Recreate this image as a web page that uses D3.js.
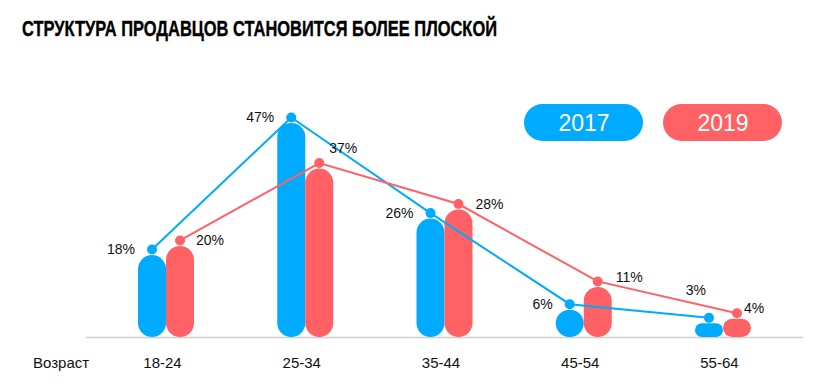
<!DOCTYPE html>
<html><head><meta charset="utf-8">
<script src="https://cdn.jsdelivr.net/npm/d3@7"></script>
<style>body{margin:0;background:#fff}svg{display:block;font-family:"Liberation Sans",Arial,sans-serif}</style>
</head><body>
<svg id="c" width="817" height="390"></svg>
<script>
const title = "СТРУКТУРА ПРОДАВЦОВ СТАНОВИТСЯ БОЛЕЕ ПЛОСКОЙ";
const axisLabel = "Возраст";
const categories = ["18-24", "25-34", "35-44", "45-54", "55-64"];
const seriesNames = ["2017", "2019"];
const values2017 = [18, 47, 26, 6, 3];
const values2019 = [20, 37, 28, 11, 4];

const colors = ["#00AAFF", "#FF6164"];
const svg = d3.select("#c");

svg.append("text").attr("x", 22).attr("y", 35.5)
  .attr("font-size", 22.5).attr("font-weight", "bold").attr("fill", "#000")
  .attr("stroke", "#000").attr("stroke-width", 0.4)
  .attr("textLength", 475).attr("lengthAdjust", "spacingAndGlyphs")
  .text(title);

const x = d3.scaleBand().domain(categories).range([96.4, 792.6]).padding(0);
const y = d3.scaleLinear().domain([0, 47]).range([337, 123]);
const barW = 28;
const series = [values2017, values2019];

// axis line
svg.append("line").attr("x1", 86).attr("x2", 803).attr("y1", 337.5).attr("y2", 337.5)
  .attr("stroke", "#cfcfcf").attr("stroke-width", 1.5);

// bars
series.forEach((vals, si) => {
  svg.append("g").selectAll("rect").data(vals).join("rect")
    .attr("x", (d, i) => x(categories[i]) + x.bandwidth() / 2 + (si - 1) * barW)
    .attr("y", d => y(d))
    .attr("width", barW)
    .attr("height", d => y(0) - y(d))
    .attr("rx", d => Math.min(barW / 2, (y(0) - y(d)) / 2))
    .attr("ry", d => Math.min(barW / 2, (y(0) - y(d)) / 2))
    .attr("fill", colors[si]);
});

// lines + dots
const dotOff = 5.5;
const cx = (i, si) => x(categories[i]) + x.bandwidth() / 2 + (si - 0.5) * barW;
series.forEach((vals, si) => {
  const line = d3.line().x((d, i) => cx(i, si)).y(d => y(d) - dotOff);
  svg.append("path").datum(vals).attr("d", line).attr("fill", "none")
    .attr("stroke", colors[si]).attr("stroke-width", 2);
  svg.append("g").selectAll("circle").data(vals).join("circle")
    .attr("cx", (d, i) => cx(i, si)).attr("cy", d => y(d) - dotOff)
    .attr("r", 5).attr("fill", colors[si]);
});

// data labels (layout nudges)
const nudge = [
  [[-17, 0], [-17, 0], [-17, 0], [-17, 0], [-3, -28]],
  [[16, 0], [10, -15], [17, 0], [18, -4], [7, -5]]
];
series.forEach((vals, si) => {
  svg.append("g").selectAll("text").data(vals).join("text")
    .attr("x", (d, i) => cx(i, si) + nudge[si][i][0])
    .attr("y", (d, i) => y(d) - dotOff + nudge[si][i][1])
    .attr("dy", "0.35em")
    .attr("text-anchor", si === 0 ? "end" : "start")
    .attr("font-size", 14).attr("fill", "#111")
    .text(d => d + "%");
});

// x axis labels
svg.append("g").selectAll("text").data(categories).join("text")
  .attr("x", d => x(d) + x.bandwidth() / 2 - 3.5).attr("y", 363).attr("dy", "0.35em")
  .attr("text-anchor", "middle").attr("font-size", 15).attr("fill", "#111").text(d => d);
svg.append("text").attr("x", 33).attr("y", 363).attr("dy", "0.35em")
  .attr("font-size", 15).attr("fill", "#111").text(axisLabel);

// legend pills
const legendX = [524, 663];
seriesNames.forEach((n, si) => {
  svg.append("rect").attr("x", legendX[si]).attr("y", 104).attr("width", 119).attr("height", 37)
    .attr("rx", 18.5).attr("fill", colors[si]);
  svg.append("text").attr("x", legendX[si] + 60).attr("y", 122.5).attr("dy", "0.35em")
    .attr("text-anchor", "middle").attr("font-size", 23).attr("fill", "#fff").text(n);
});
</script>
</body></html>
